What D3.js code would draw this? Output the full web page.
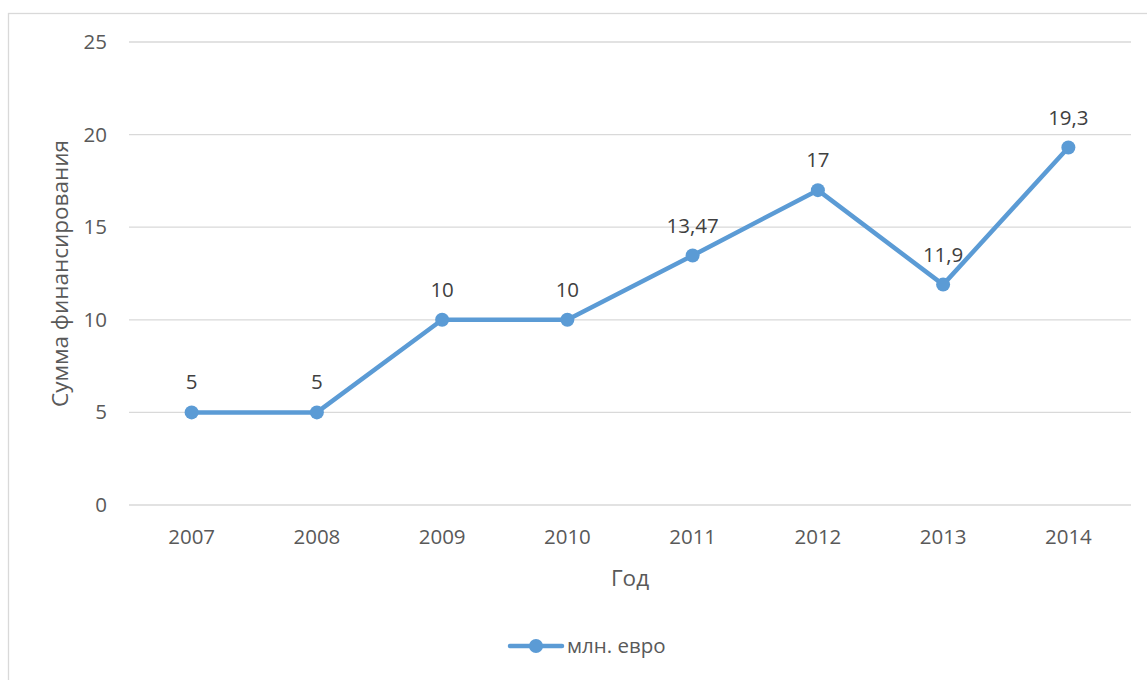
<!DOCTYPE html>
<html><head><meta charset="utf-8">
<script src="https://cdn.jsdelivr.net/npm/d3@7"></script>
<style>body{margin:0;background:#fff}svg{display:block}text{font-family:"Open Sans",sans-serif}</style>
</head><body>
<svg id="c" width="1147" height="680"></svg>
<script>
const years = ["2007","2008","2009","2010","2011","2012","2013","2014"];
const values = [5,5,10,10,13.47,17,11.9,19.3];
const valueLabels = ["5","5","10","10","13,47","17","11,9","19,3"];
const yTicks = [0,5,10,15,20,25];
const seriesName = "млн. евро";
const yTitle = "Сумма финансирования";
const xTitle = "Год";

const svg = d3.select("#c");
svg.append("rect").attr("x",8.5).attr("y",13.5).attr("width",1160).attr("height",700)
  .attr("fill","#fff").attr("stroke","#d9d9d9").attr("stroke-width",1.3);

const L=129,R=1131,T=42,B=505;
const x = d3.scaleBand().domain(years).range([L,R]);
const y = d3.scaleLinear().domain([0,25]).range([B,T]);
const color="#5B9BD5";
const fs=20.5;

const grid = svg.append("g");
grid.selectAll("line").data(yTicks).join("line")
  .attr("x1",L).attr("x2",R).attr("y1",d=>y(d)).attr("y2",d=>y(d))
  .attr("stroke","#d9d9d9").attr("stroke-width",1.3);

const yAxis = svg.append("g").attr("transform",`translate(${L},0)`)
  .call(d3.axisLeft(y).tickValues(yTicks).tickSize(0).tickPadding(22));
yAxis.select(".domain").remove();
yAxis.selectAll("text").attr("font-size",fs).attr("fill","#595959").attr("font-family","'Open Sans',sans-serif");

const xAxis = svg.append("g").attr("transform",`translate(0,${B})`)
  .call(d3.axisBottom(x).tickSize(0).tickPadding(24));
xAxis.select(".domain").remove();
xAxis.selectAll("text").attr("font-size",fs).attr("fill","#595959").attr("font-family","'Open Sans',sans-serif");

svg.append("text").attr("transform",`translate(68,${(T+B)/2}) rotate(-90)`)
  .attr("text-anchor","middle").attr("font-size",22.5).attr("fill","#595959").text(yTitle);
svg.append("text").attr("x",630).attr("y",586).attr("text-anchor","middle")
  .attr("font-size",22.5).attr("fill","#595959").text(xTitle);

const cx = d=>x(d)+x.bandwidth()/2;
const line = d3.line().x((d,i)=>cx(years[i])).y(d=>y(d));
svg.append("path").datum(values).attr("d",line).attr("fill","none")
  .attr("stroke",color).attr("stroke-width",4.5).attr("stroke-linejoin","round").attr("stroke-linecap","round");
svg.selectAll("circle.pt").data(values).join("circle").attr("class","pt")
  .attr("cx",(d,i)=>cx(years[i])).attr("cy",d=>y(d)).attr("r",7).attr("fill",color);
svg.selectAll("text.lbl").data(values).join("text").attr("class","lbl")
  .attr("x",(d,i)=>cx(years[i])).attr("y",d=>y(d)-23).attr("text-anchor","middle")
  .attr("font-size",fs).attr("fill","#404040").text((d,i)=>valueLabels[i]);

const lg = svg.append("g");
lg.append("line").attr("x1",510).attr("x2",562).attr("y1",646).attr("y2",646)
  .attr("stroke",color).attr("stroke-width",4.5).attr("stroke-linecap","round");
lg.append("circle").attr("cx",536).attr("cy",646).attr("r",7).attr("fill",color);
lg.append("text").attr("x",567).attr("y",653).attr("font-size",fs).attr("fill","#595959").text(seriesName);
</script>
</body></html>
